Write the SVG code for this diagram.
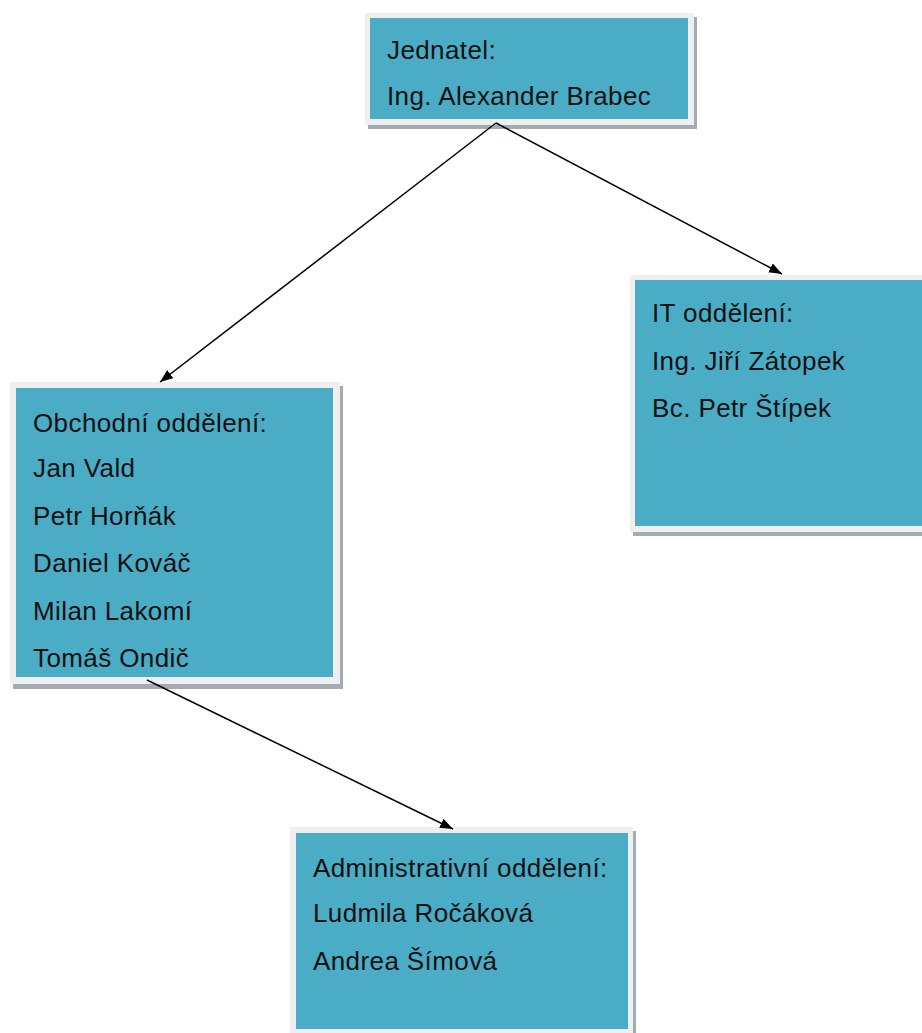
<svg xmlns="http://www.w3.org/2000/svg" width="922" height="1033" viewBox="0 0 922 1033">
<style>
.sh{fill:#a3acb4}
.bd{fill:#efefef}
.fl{fill:#4BACC6}
text{font-family:"Liberation Sans",Arial,sans-serif;font-size:26px;letter-spacing:0.4px;fill:#111}
.cn{stroke:#000;stroke-width:1.5;fill:none;marker-end:url(#ah)}
</style>
<defs>
<marker id="ah" viewBox="0 0 13 10" refX="13" refY="5" markerWidth="13" markerHeight="10" markerUnits="userSpaceOnUse" orient="auto">
<path d="M0,0 L13,5 L0,10 Z" fill="#000"/>
</marker>
</defs>
<rect width="922" height="1033" fill="#fff"/>
<g id="jednatel">
<rect class="sh" x="368" y="17" width="329" height="112"/>
<rect class="bd" x="365" y="13" width="329" height="112"/>
<rect class="fl" x="370" y="18" width="318" height="101"/>
<text x="387" y="59">Jednatel:</text>
<text x="387" y="105">Ing. Alexander Brabec</text>
</g>
<g id="it">
<rect class="sh" x="633" y="279" width="300" height="257"/>
<rect class="bd" x="630" y="275" width="300" height="257"/>
<rect class="fl" x="635" y="280" width="300" height="246"/>
<text x="652" y="322">IT oddělení:</text>
<text x="652" y="370">Ing. Jiří Zátopek</text>
<text x="652" y="417">Bc. Petr Štípek</text>
</g>
<g id="obchodni">
<rect class="sh" x="13" y="386" width="330" height="303"/>
<rect class="bd" x="10" y="382" width="330" height="302"/>
<rect class="fl" x="16" y="388" width="317" height="289"/>
<text x="33" y="432">Obchodní oddělení:</text>
<text x="33" y="477">Jan Vald</text>
<text x="33" y="525">Petr Horňák</text>
<text x="33" y="572">Daniel Kováč</text>
<text x="33" y="620">Milan Lakomí</text>
<text x="33" y="667">Tomáš Ondič</text>
</g>
<g id="administrativni">
<rect class="sh" x="293" y="831" width="343" height="210"/>
<rect class="bd" x="290" y="827" width="343" height="210"/>
<rect class="fl" x="296" y="833" width="332" height="196"/>
<text x="313" y="877">Administrativní oddělení:</text>
<text x="313" y="922">Ludmila Ročáková</text>
<text x="313" y="970">Andrea Šímová</text>
</g>
<g id="connectors">
<line class="cn" x1="496" y1="123" x2="160" y2="382"/>
<line class="cn" x1="496" y1="123" x2="782" y2="274"/>
<line class="cn" x1="147" y1="680" x2="453" y2="829"/>
</g>
</svg>
